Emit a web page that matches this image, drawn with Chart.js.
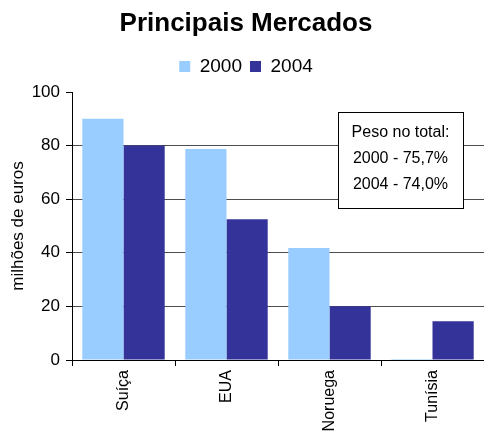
<!DOCTYPE html>
<html>
<head>
<meta charset="utf-8">
<script src="https://cdn.jsdelivr.net/npm/chart.js@4.4.1/dist/chart.umd.min.js"></script>
<style>
  html, body { margin: 0; padding: 0; background: #fff; }
  #wrap { width: 484px; height: 432px; }
</style>
</head>
<body>
<div id="wrap"><canvas id="barChart"></canvas></div>
<script>
const categories = ['Suíça', 'EUA', 'Noruega', 'Tunísia'];
const values2000 = [90, 78.7, 41.8, 0.4];
const values2004 = [80, 52.5, 20.1, 14.5];
const seriesLabels = ['2000', '2004'];
const yTicks = [0, 20, 40, 60, 80, 100];
const noteLines = ['Peso no total:', '2000 - 75,7%', '2004 - 74,0%'];

const narrow = "'Liberation Sans Narrow', 'Arial Narrow', 'Liberation Sans', sans-serif";

// text box in the upper right corner
const noteBox = {
  id: 'noteBox',
  afterDraw: (chart) => {
    const ctx = chart.ctx;
    const x = 338, y = 112, w = 125, h = 96;
    ctx.save();
    ctx.fillStyle = '#fff';
    ctx.fillRect(x, y, w, h);
    ctx.strokeStyle = '#000';
    ctx.lineWidth = 1;
    ctx.strokeRect(x + 0.5, y + 0.5, w, h);
    ctx.fillStyle = '#000';
    ctx.font = '16px ' + narrow;
    ctx.textAlign = 'center';
    ctx.textBaseline = 'middle';
    noteLines.forEach((line, i) => {
      ctx.fillText(line, x + w / 2, y + 21 + i * 26);
    });
    ctx.restore();
  }
};

// a bit more room under the legend
const legendGap = {
  id: 'legendGap',
  beforeInit: (chart) => {
    const fit = chart.legend.fit;
    chart.legend.fit = function () {
      fit.call(this);
      this.height += 6;
    };
  }
};

new Chart(document.getElementById('barChart'), {
  type: 'bar',
  data: {
    labels: categories,
    datasets: [{
      label: seriesLabels[0],
      data: values2000,
      backgroundColor: '#99CCFF',
      categoryPercentage: 0.8,
      barPercentage: 1
    }, {
      label: seriesLabels[1],
      data: values2004,
      backgroundColor: '#333399',
      categoryPercentage: 0.8,
      barPercentage: 1
    }]
  },
  options: {
    responsive: true,
    maintainAspectRatio: false,
    animation: false,
    layout: { padding: { left: 8, right: 0, top: 0, bottom: 0 } },
    plugins: {
      title: {
        display: true,
        text: 'Principais Mercados',
        color: '#000',
        font: { family: "'Liberation Sans', Arial, sans-serif", size: 26, weight: 'bold' },
        padding: { top: 2, bottom: 10 }
      },
      legend: {
        labels: {
          color: '#000',
          font: { family: "'Liberation Sans', Arial, sans-serif", size: 19 },
          boxWidth: 11,
          boxHeight: 11,
          padding: 8
        }
      },
      tooltip: { enabled: false }
    },
    scales: {
      x: {
        grid: {
          drawOnChartArea: false,
          tickLength: 6,
          tickColor: '#000'
        },
        border: { color: '#000', width: 1 },
        ticks: {
          color: '#000',
          maxRotation: 90,
          minRotation: 90,
          padding: 4,
          font: { family: narrow, size: 16 }
        },
        afterFit: (scale) => { scale.height = 72; }
      },
      y: {
        min: 0,
        max: 100,
        afterBuildTicks: (scale) => { scale.ticks = yTicks.map(v => ({ value: v })); },
        grid: {
          color: (c) => (c.tick && c.tick.value === 100) ? 'rgba(0,0,0,0)' : '#4d4d4d',
          tickColor: '#000',
          tickLength: 6
        },
        border: { color: '#000', width: 1 },
        ticks: {
          color: '#000',
          padding: 6,
          font: { family: narrow, size: 17 }
        },
        title: {
          display: true,
          text: 'milhões de euros',
          color: '#000',
          font: { family: narrow, size: 17 },
          padding: { top: 0, bottom: 4 }
        },
        afterFit: (scale) => {
          scale.width = 64;
          scale.paddingTop = 92;
        }
      }
    }
  },
  plugins: [legendGap, noteBox]
});
</script>
</body>
</html>
